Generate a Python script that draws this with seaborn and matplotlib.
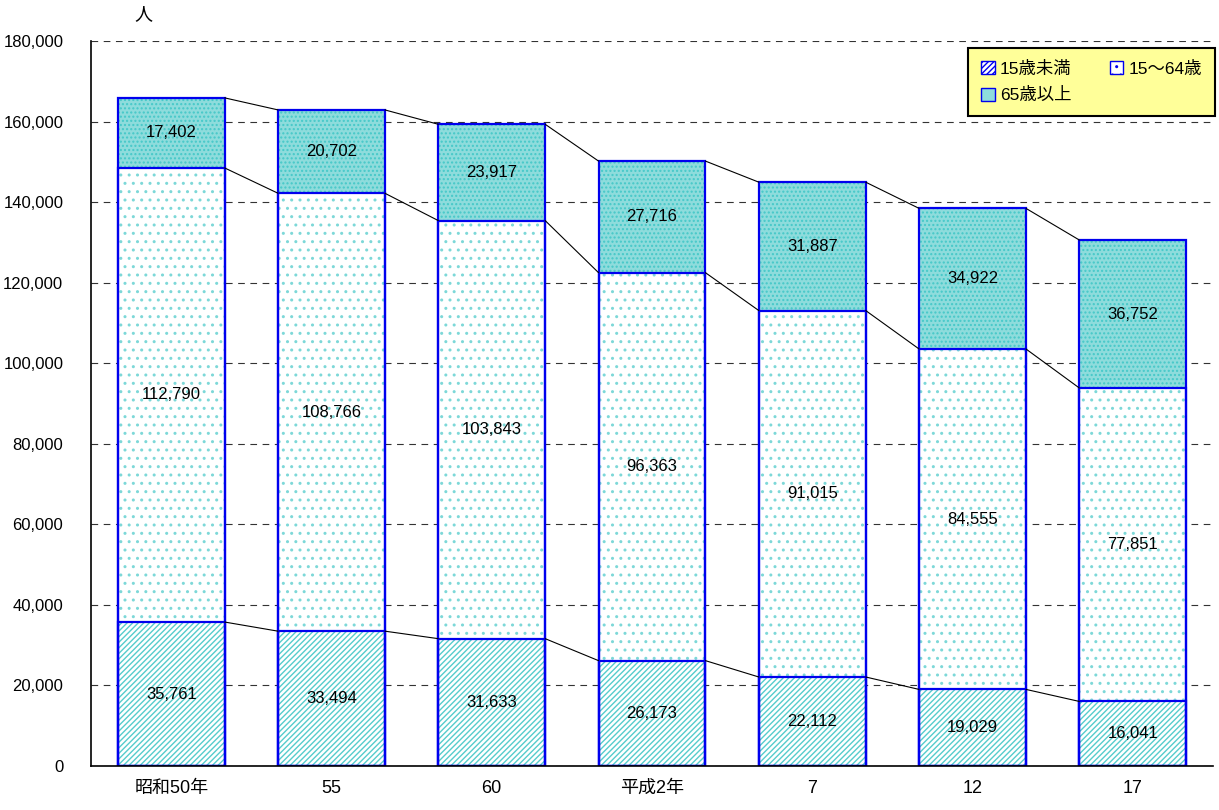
import numpy as np
import pandas as pd
import matplotlib
matplotlib.use("Agg")
import matplotlib.pyplot as plt
import seaborn as sns
from matplotlib.patches import Patch
from matplotlib.ticker import FuncFormatter, MultipleLocator

# data
years = ["昭和50年", "55", "60", "平成2年", "7", "12", "17"]
under15 = [35761, 33494, 31633, 26173, 22112, 19029, 16041]
age15_64 = [112790, 108766, 103843, 96363, 91015, 84555, 77851]
over65 = [17402, 20702, 23917, 27716, 31887, 34922, 36752]
series_names = ["15歳未満", "15～64歳", "65歳以上"]

sns.set_style("white")
plt.rcParams["font.family"] = ["Liberation Sans", "Noto Sans CJK JP", "DejaVu Sans"]
plt.rcParams["text.color"] = "black"
plt.rcParams["xtick.color"] = "black"
plt.rcParams["ytick.color"] = "black"
plt.rcParams["hatch.linewidth"] = 1.0

df = pd.DataFrame({"year": years, "u15": under15, "mid": age15_64, "o65": over65})
df["c1"] = df["u15"]
df["c2"] = df["u15"] + df["mid"]
df["c3"] = df["c2"] + df["o65"]

fig = plt.figure(figsize=(12.19, 8.10), dpi=100)
ax = fig.add_axes([0.0747, 0.0543, 0.9203, 0.8947])

bar_w = 0.667
# layers drawn from the tallest down so each covers the one below
layers = [("c3", "#8edcdc", "....", "#45c8c8"),
          ("c2", "white", "..", "#7dd8d8"),
          ("c1", "white", "//////", "#55cccc")]
for col, face, hatch, hc in layers:
    sns.barplot(data=df, x="year", y=col, color=face, width=bar_w, ax=ax,
                edgecolor=hc, linewidth=0, hatch=hatch, saturation=1,
                err_kws={"linewidth": 0})
for col in ["c3", "c2", "c1"]:
    sns.barplot(data=df, x="year", y=col, fill=False, width=bar_w, ax=ax,
                edgecolor="#0000ee", linewidth=1.6, err_kws={"linewidth": 0})

# connector lines between neighbouring bars
n = len(years)
for col in ["c1", "c2", "c3"]:
    vals = df[col].values
    for i in range(n - 1):
        ax.plot([i + bar_w / 2, i + 1 - bar_w / 2], [vals[i], vals[i + 1]],
                color="black", lw=0.8, zorder=1)

# value labels
for i in range(n):
    ax.text(i, df["u15"][i] / 2, f"{under15[i]:,}", ha="center", va="center", fontsize=12)
    ax.text(i, df["c1"][i] + age15_64[i] / 2, f"{age15_64[i]:,}", ha="center", va="center", fontsize=12)
    ax.text(i, df["c2"][i] + over65[i] / 2, f"{over65[i]:,}", ha="center", va="center", fontsize=12)

ax.set_xlim(-0.5, n - 0.5)
ax.set_ylim(0, 180000)
ax.yaxis.set_major_locator(MultipleLocator(20000))
ax.yaxis.set_major_formatter(FuncFormatter(lambda v, p: f"{int(v):,}"))
ax.grid(axis="y", color="#333333", linestyle=(0, (6, 5)), linewidth=0.8)
ax.set_axisbelow(True)
ax.set_xlabel("")
ax.set_ylabel("")
for s in ["top", "right"]:
    ax.spines[s].set_visible(False)
for s in ["left", "bottom"]:
    ax.spines[s].set_color("black")
    ax.spines[s].set_linewidth(1.2)
ax.tick_params(axis="y", direction="in", length=5, labelsize=12, pad=20)
ax.tick_params(axis="x", which="major", length=0, labelsize=13, pad=10)
ax.set_xticks(np.arange(-0.5, n, 1.0), minor=True)
ax.tick_params(axis="x", which="minor", direction="inout", length=10)

ax.text(0.047, 1.025, "人", transform=ax.transAxes, fontsize=13, ha="center", va="bottom")

# legend fills column-wise, so order handles to give 15歳未満, 15～64歳 on the first row
h_u15 = Patch(facecolor="white", edgecolor="#0000ee", hatch="//////", label=series_names[0])
h_mid = Patch(facecolor="white", edgecolor="#0000ee", hatch="..", label=series_names[1])
h_o65 = Patch(facecolor="#8edcdc", edgecolor="#0000ee", label=series_names[2])
leg = ax.legend(handles=[h_u15, h_o65, h_mid], ncol=2, loc="upper right",
                bbox_to_anchor=(1.002, 0.991), borderaxespad=0,
                frameon=True, fancybox=False, facecolor="#ffff99", edgecolor="black",
                fontsize=12.5, handlelength=0.8, handleheight=0.8, columnspacing=2.2,
                handletextpad=0.3, borderpad=0.75, labelspacing=0.6, framealpha=1)
leg.get_frame().set_linewidth(1.5)

fig.savefig("out.png", dpi=100)
